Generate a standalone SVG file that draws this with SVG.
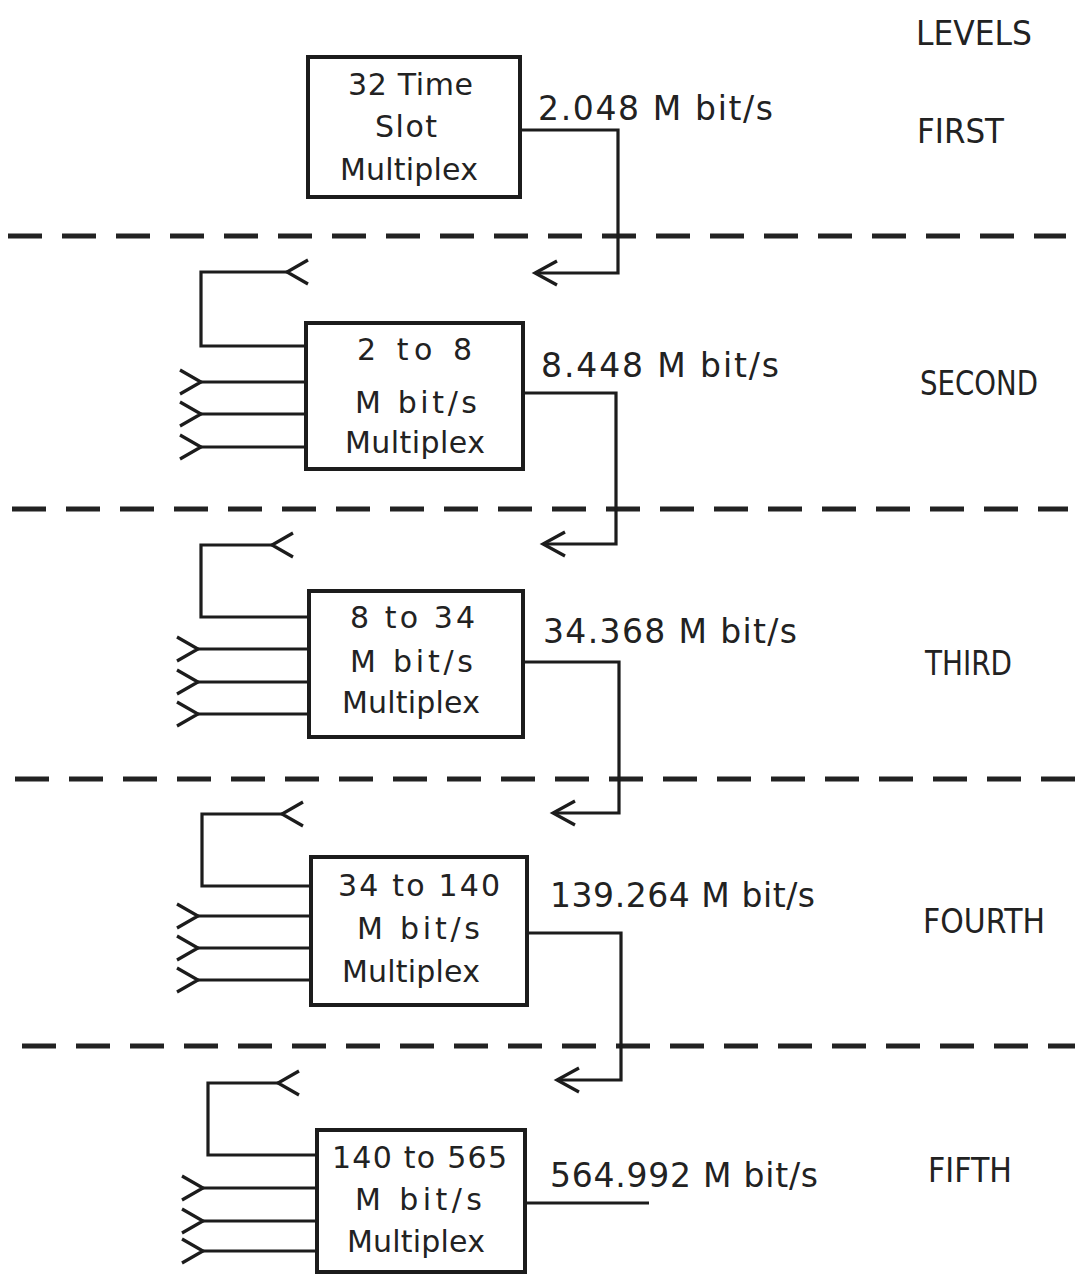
<svg xmlns="http://www.w3.org/2000/svg" width="1082" height="1275" viewBox="0 0 1082 1275">
<style>
text{font-family:"DejaVu Sans","Liberation Sans",sans-serif;fill:#222}
.bt{font-size:30px}
.lb{font-size:33px}
.lv{font-size:34px}
.box{fill:#fff;stroke:#1c1c1c;stroke-width:4}
.ln{fill:none;stroke:#1c1c1c;stroke-width:3.2}
.dash{fill:none;stroke:#222;stroke-width:5;stroke-dasharray:34 20}
</style>
<defs>
<marker id="arrow" markerUnits="userSpaceOnUse" viewBox="-30 -15 60 30" markerWidth="60" markerHeight="30" refX="0" refY="0" orient="auto" overflow="visible">
<path d="M-22,-12 L0,0 L-22,12" fill="none" stroke="#1c1c1c" stroke-width="3.2"/>
</marker>
<marker id="fork" markerUnits="userSpaceOnUse" viewBox="-30 -15 60 30" markerWidth="60" markerHeight="30" refX="0" refY="0" orient="auto" overflow="visible">
<path d="M21,-12 L0,0 L21,12" fill="none" stroke="#1c1c1c" stroke-width="3.2"/>
</marker>
</defs>
<rect width="1082" height="1275" fill="#fff"/>
<g id="level-dividers">
<line class="dash" x1="8" y1="236" x2="1066" y2="236"/>
<line class="dash" x1="12" y1="509" x2="1068" y2="509"/>
<line class="dash" x1="15" y1="779" x2="1075" y2="779"/>
<line class="dash" x1="22" y1="1046" x2="1075" y2="1046"/>
</g>
<g id="connectors">
<path class="ln" d="M520,130 H618 V273 H535" marker-end="url(#arrow)"/>
<path class="ln" d="M523,393 H616 V544 H543" marker-end="url(#arrow)"/>
<path class="ln" d="M523,662 H619 V813 H553" marker-end="url(#arrow)"/>
<path class="ln" d="M527,933 H621 V1080 H557" marker-end="url(#arrow)"/>
<path class="ln" d="M525,1203 H649"/>
<path class="ln" d="M306,346 H201 V272 H287" marker-end="url(#fork)"/>
<path class="ln" d="M309,617 H201 V545 H272" marker-end="url(#fork)"/>
<path class="ln" d="M311,886 H202 V814 H282" marker-end="url(#fork)"/>
<path class="ln" d="M317,1155 H208 V1083 H278" marker-end="url(#fork)"/>
<path class="ln" d="M306,382 H201" marker-end="url(#fork)"/>
<path class="ln" d="M306,414 H201" marker-end="url(#fork)"/>
<path class="ln" d="M306,447 H201" marker-end="url(#fork)"/>
<path class="ln" d="M309,649 H198" marker-end="url(#fork)"/>
<path class="ln" d="M309,682 H198" marker-end="url(#fork)"/>
<path class="ln" d="M309,714 H198" marker-end="url(#fork)"/>
<path class="ln" d="M311,916 H198" marker-end="url(#fork)"/>
<path class="ln" d="M311,948 H198" marker-end="url(#fork)"/>
<path class="ln" d="M311,980 H198" marker-end="url(#fork)"/>
<path class="ln" d="M317,1188 H203" marker-end="url(#fork)"/>
<path class="ln" d="M317,1221 H203" marker-end="url(#fork)"/>
<path class="ln" d="M317,1251 H203" marker-end="url(#fork)"/>
</g>
<g id="rate-labels" class="lb">
<text x="538" y="120" textLength="235" lengthAdjust="spacing">2.048 M bit/s</text>
<text x="541" y="377" textLength="238" lengthAdjust="spacing">8.448 M bit/s</text>
<text x="543" y="643" textLength="254" lengthAdjust="spacing">34.368 M bit/s</text>
<text x="550" y="907" textLength="265" lengthAdjust="spacing">139.264 M bit/s</text>
<text x="550" y="1187" textLength="268" lengthAdjust="spacing">564.992 M bit/s</text>
</g>
<g id="level-labels" class="lv">
<text x="916" y="45" textLength="116" lengthAdjust="spacingAndGlyphs">LEVELS</text>
<text x="917" y="143" textLength="87" lengthAdjust="spacingAndGlyphs">FIRST</text>
<text x="920" y="395" textLength="118" lengthAdjust="spacingAndGlyphs">SECOND</text>
<text x="925" y="675" textLength="87" lengthAdjust="spacingAndGlyphs">THIRD</text>
<text x="923" y="933" textLength="122" lengthAdjust="spacingAndGlyphs">FOURTH</text>
<text x="928" y="1182" textLength="84" lengthAdjust="spacingAndGlyphs">FIFTH</text>
</g>
<g id="mux-32-time-slot" class="bt">
<rect class="box" x="308" y="57" width="212" height="140"/>
<text x="348" y="95" textLength="125" lengthAdjust="spacing">32 Time</text>
<text x="375" y="137" textLength="62" lengthAdjust="spacing">Slot</text>
<text x="340" y="180" textLength="138" lengthAdjust="spacing">Multiplex</text>
</g>
<g id="mux-2-to-8" class="bt">
<rect class="box" x="306" y="323" width="217" height="146"/>
<text x="357" y="360" textLength="115" lengthAdjust="spacing">2 to 8</text>
<text x="355" y="413" textLength="122" lengthAdjust="spacing">M bit/s</text>
<text x="345" y="453" textLength="140" lengthAdjust="spacing">Multiplex</text>
</g>
<g id="mux-8-to-34" class="bt">
<rect class="box" x="309" y="591" width="214" height="146"/>
<text x="350" y="628" textLength="125" lengthAdjust="spacing">8 to 34</text>
<text x="350" y="672" textLength="123" lengthAdjust="spacing">M bit/s</text>
<text x="342" y="713" textLength="138" lengthAdjust="spacing">Multiplex</text>
</g>
<g id="mux-34-to-140" class="bt">
<rect class="box" x="311" y="857" width="216" height="148"/>
<text x="338" y="896" textLength="162" lengthAdjust="spacing">34 to 140</text>
<text x="357" y="939" textLength="123" lengthAdjust="spacing">M bit/s</text>
<text x="342" y="982" textLength="138" lengthAdjust="spacing">Multiplex</text>
</g>
<g id="mux-140-to-565" class="bt">
<rect class="box" x="317" y="1130" width="208" height="142"/>
<text x="332" y="1168" textLength="175" lengthAdjust="spacing">140 to 565</text>
<text x="355" y="1210" textLength="127" lengthAdjust="spacing">M bit/s</text>
<text x="347" y="1252" textLength="138" lengthAdjust="spacing">Multiplex</text>
</g>
</svg>
